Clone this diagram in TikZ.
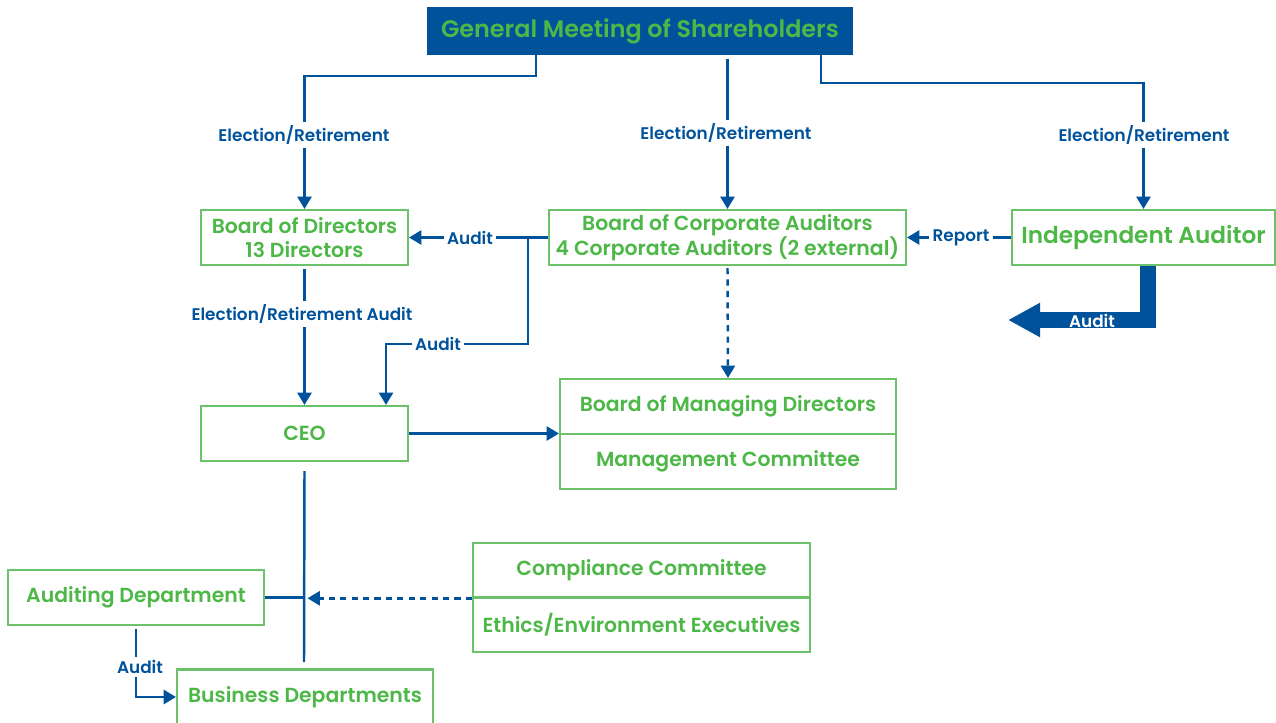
\documentclass[tikz,border=0pt]{standalone}
\usepackage{fontspec}
\setmainfont{Poppins}[BoldFont={Poppins SemiBold}]
\usetikzlibrary{arrows.meta}
\definecolor{govblue}{HTML}{00539B}
\definecolor{govgreen}{HTML}{4DB848}
\definecolor{boxgreen}{HTML}{6CC26A}
\tikzset{
  box/.style={draw=boxgreen, line width=1.2pt, text=govgreen, align=center,
    font=\fontsize{11.6}{14}\selectfont\bfseries, inner sep=0pt},
  lbl/.style={text=govblue, fill=white, inner sep=2pt, font=\fontsize{9.6}{11}\selectfont\bfseries},
  conn/.style={draw=govblue, line width=1.4pt},
  tip/.style={-{Triangle[length=7pt,width=8pt]}},
  dots/.style={dash pattern=on 3.5pt off 3pt},
  bigarrow/.style={draw=govblue, line width=0.32cm,
    -{Triangle[length=0.64cm,width=0.64cm]}},
}
\begin{document}
\begin{tikzpicture}[x=0.02cm,y=-0.02cm]
  \useasboundingbox (0,0) rectangle (1276,723);
  % boxes
  \node[box, fill=govblue, draw=govblue, minimum width=8.48cm, minimum height=0.92cm,
    font=\fontsize{13.6}{15}\selectfont\bfseries] (gms) at (640,31) {General Meeting of Shareholders};
  \node[box, minimum width=4.14cm, minimum height=1.1cm] (bod) at (304.5,237.5) {Board of Directors\\13 Directors};
  \node[box, minimum width=7.14cm, minimum height=1.1cm] (bca) at (727.5,237.5) {Board of Corporate Auditors\\4 Corporate Auditors (2 external)};
  \node[box, minimum width=5.26cm, minimum height=1.1cm,
    font=\fontsize{13.2}{15}\selectfont\bfseries] (ia) at (1143.5,237.5) {Independent Auditor};
  \node[box, minimum width=4.14cm, minimum height=1.1cm] (ceo) at (304.5,433.5) {CEO};
  \node[box, minimum width=6.72cm, minimum height=1.1cm] (bmd) at (728,406.5) {Board of Managing Directors};
  \node[box, minimum width=6.72cm, minimum height=1.1cm] (mc) at (728,461.5) {Management Committee};
  \node[box, minimum width=6.74cm, minimum height=1.09cm] (cc) at (641.5,570) {Compliance Committee};
  \node[box, minimum width=6.74cm, minimum height=1.09cm] (ee) at (641.5,625) {Ethics/Environment Executives};
  \node[box, minimum width=5.12cm, minimum height=1.1cm] (ad) at (136,597.5) {Auditing Department};
  \node[box, minimum width=5.12cm, minimum height=1.1cm] (bd) at (305,697) {Business Departments};

  % junctions
  \coordinate (j1) at (528,238);
  \coordinate (j2) at (386,344);
  \coordinate (j3) at (304,662);
  \coordinate (j4) at (1148,320);
  \coordinate (j5) at (1008,320);

  % election lines
  \draw[conn,tip] ([xshift=-2.08cm]gms.south) -- ++(0,21) -| (bod.north);
  \draw[conn,tip] ([yshift=-0.08cm]bca.north |- gms.south) -- (bca.north);
  \draw[conn,tip] ([xshift=3.62cm]gms.south) -- ++(0,28) -| (ia.north);
  \node[lbl] (e1) at (304,135) {Election/Retirement};
  \node[lbl] (e2) at (726,133) {Election/Retirement};
  \node[lbl] (e3) at (1144,135) {Election/Retirement};

  % audit and report
  \draw[conn,tip] (bca.west) -- (bod.east);
  \draw[conn,tip] (j1) |- (j2) -- (j2 |- ceo.north);
  \draw[conn,tip] (ia.west) -- (bca.east);
  \node[lbl] (a1) at (470,238) {Audit};
  \node[lbl] (a2) at (438,344) {Audit};
  \node[lbl] (r1) at (961,238) {Report};

  \draw[conn,tip] ([yshift=-0.06cm]bod.south) -- (ceo.north);
  \node[lbl] (e4) at (302,314) {Election/Retirement Audit};

  \draw[conn,tip] (ceo.east) -- (ceo.east -| bmd.west);
  \draw[conn,dots,tip] ([yshift=-0.04cm]bca.south) -- (bmd.north);

  % big audit arrow
  \draw[bigarrow] (ia.south -| j4) -- (j4) -- (j5);
  \node[text=white, font=\fontsize{9.6}{11}\selectfont\bfseries] (a3) at (1092,321) {Audit};

  % lower part
  \draw[conn] ([yshift=-0.18cm]ceo.south) -- (j3);
  \draw[conn] (ad.east) -- (ad.east -| j3);
  \draw[conn,dots,tip,shorten >=2pt] (cc.south west) -- (cc.south west -| j3);
  \draw[conn,tip] ([yshift=-0.06cm]ad.south) |- (bd.west);
  \node[lbl] (a4) at (140,667) {Audit};
\end{tikzpicture}
\end{document}
